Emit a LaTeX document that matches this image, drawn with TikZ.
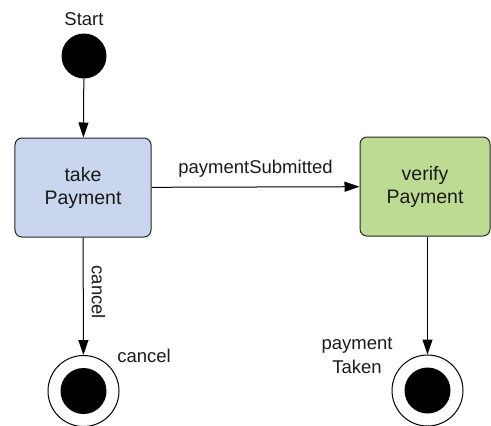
\documentclass[tikz,border=0pt]{standalone}
\usepackage{fontspec}
\setmainfont{Liberation Sans}
\usetikzlibrary{arrows.meta}
\definecolor{takefill}{HTML}{C9D6EE}
\definecolor{verifyfill}{HTML}{BEDB94}
\definecolor{txt}{HTML}{1A1A1A}
\begin{document}
\begin{tikzpicture}[x=1bp,y=-1bp,
  every node/.style={font=\fontsize{18.5bp}{24bp}\selectfont, text=txt},
  statebox/.style={draw=black!85, line width=1bp, rounded corners=7bp, align=center,
    minimum width=136bp, minimum height=99bp, inner sep=0pt,
    font=\fontsize{19.5bp}{23bp}\selectfont},
  initstate/.style={circle, fill=black, minimum size=45bp, inner sep=0pt},
  finalstate/.style={circle, draw=black, line width=1bp, fill=white, minimum size=71bp, inner sep=0pt,
    path picture={\fill[black] (path picture bounding box.center) circle[radius=23bp];}},
  lbl/.style={inner sep=0pt, align=center},
  flow/.style={line width=1bp, -{Triangle[length=15bp,width=10bp]}}
]
\useasboundingbox (0,0) rectangle (491,425);
\node[initstate] (start) at (84,56) {};
\node[lbl] (startlbl) at (84,19) {Start};
\node[statebox, fill=takefill] (take) at (83,187.5) {take\\Payment};
\node[statebox, fill=verifyfill, minimum width=130bp] (verify) at (425,186.5) {verify\\Payment};
\node[finalstate] (endcancel) at (83.5,391) {};
\node[finalstate] (endtaken) at (427.5,390.5) {};
\draw[flow] (start) -- (take);
\draw[flow] (take) -- node[lbl, above=9bp] (subm) {paymentSubmitted} (verify);
\draw[flow] (take) -- node[pos=0.466, rotate=-90, anchor=south, inner sep=8bp] (cancellbl) {cancel} (endcancel);
\draw[flow] (verify.south -| endtaken) -- (endtaken);
\node[lbl] (cancelend) at (144,356) {cancel};
\node[lbl] (takenlbl) at (357,356) {payment\\Taken};
\end{tikzpicture}
\end{document}
